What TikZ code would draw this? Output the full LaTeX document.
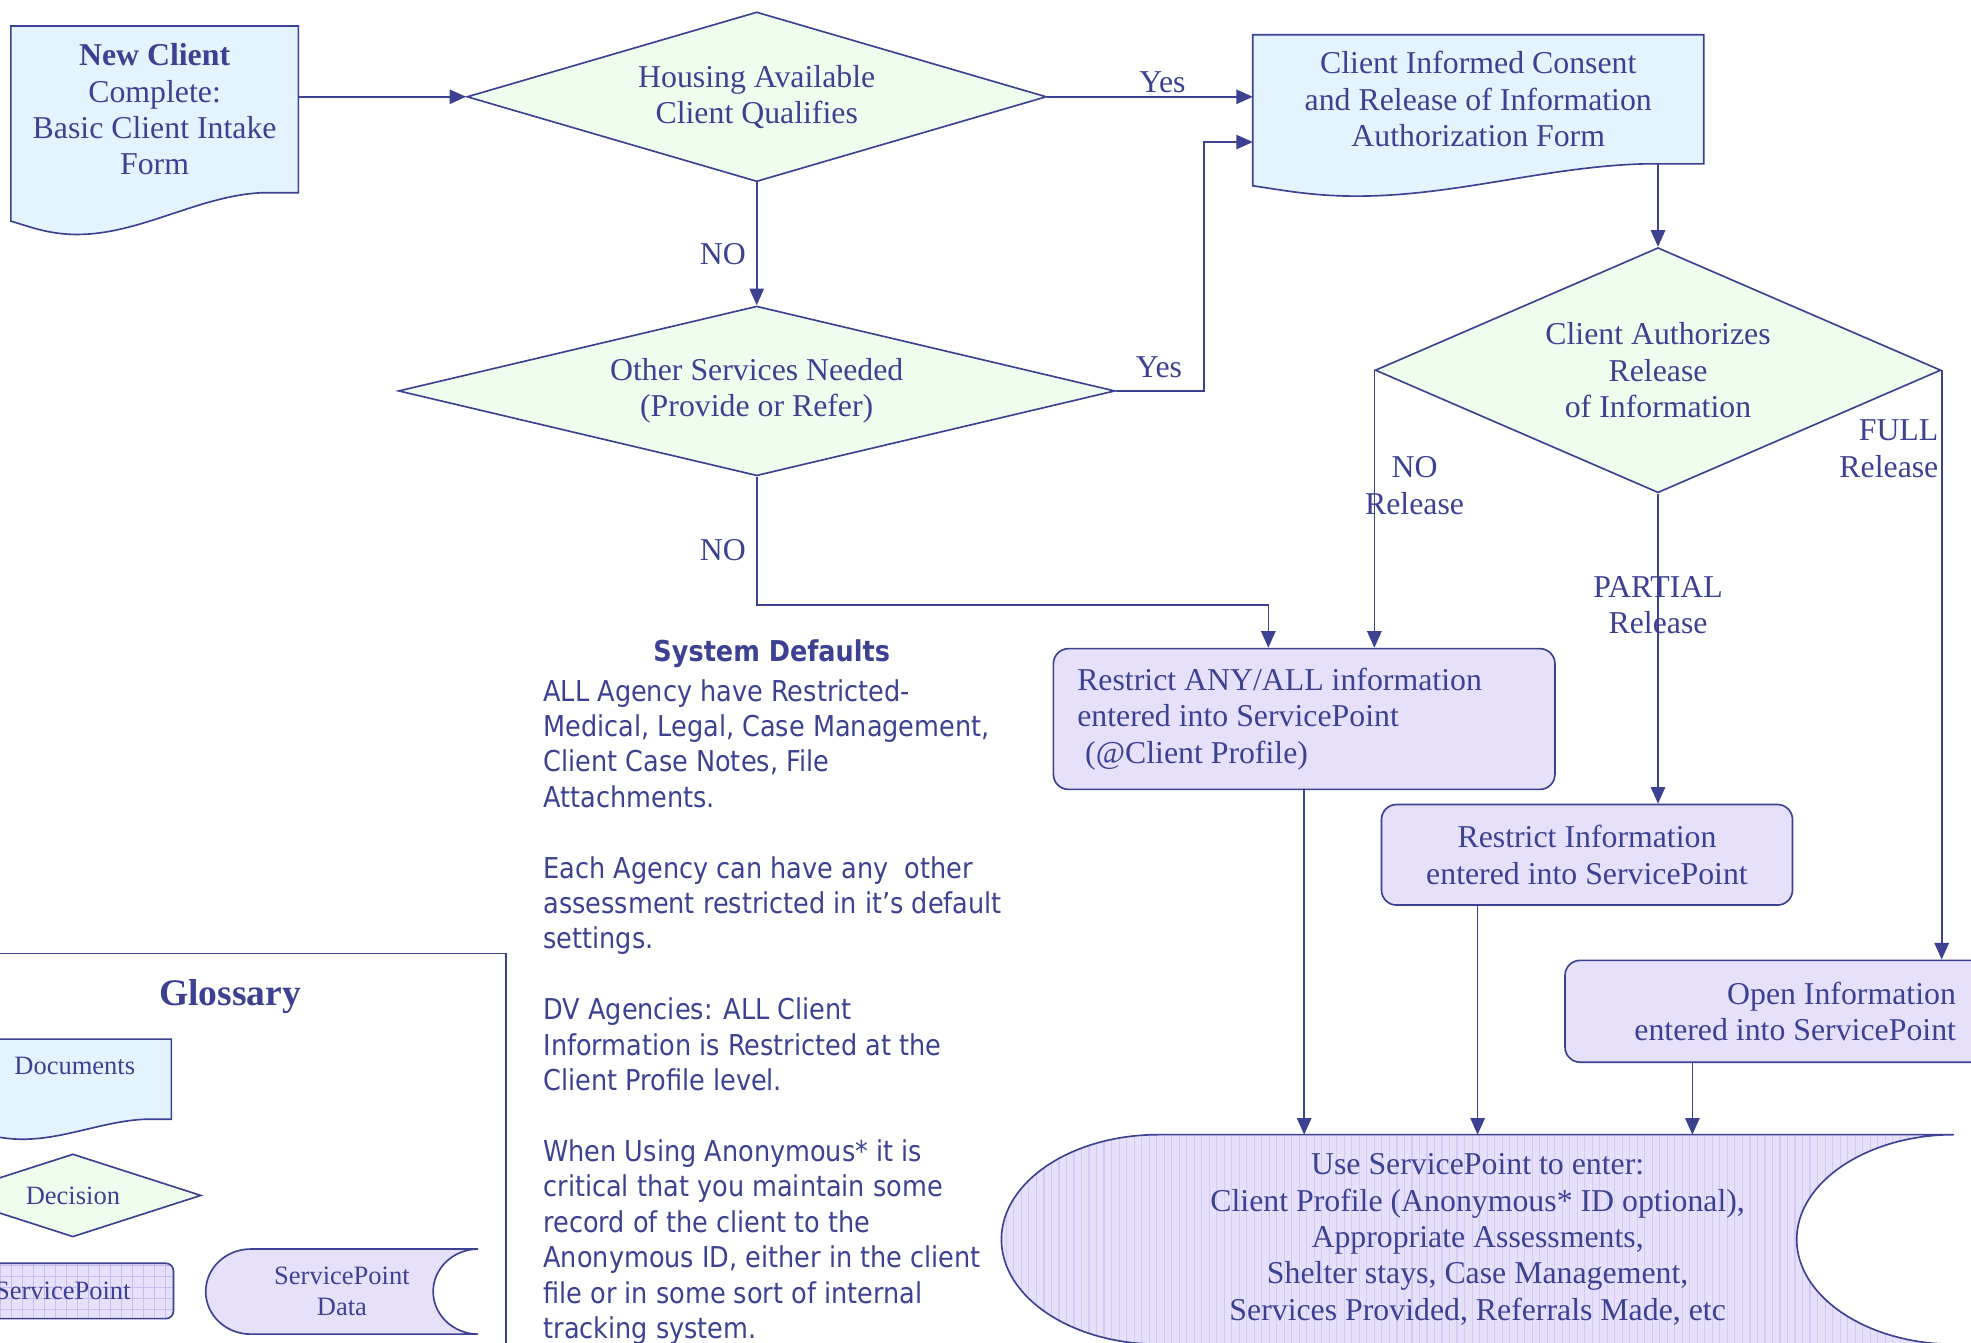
\documentclass[tikz,border=0pt]{standalone}
\usepackage{fontspec}
\setmainfont{Liberation Serif}
\setsansfont[FakeStretch=0.89]{DejaVu Sans}
\usepackage{xcolor}
\usepackage{tikz}
\usetikzlibrary{shapes.geometric, arrows.meta, positioning, calc, backgrounds, patterns.meta}

\definecolor{navy}{RGB}{60,65,145}
\definecolor{docfill}{RGB}{228,244,254}
\definecolor{decfill}{RGB}{239,253,239}
\definecolor{procfill}{RGB}{230,224,251}
\definecolor{hatchline}{RGB}{212,202,246}
\definecolor{gridline}{RGB}{200,188,242}

\newcommand{\flowfont}{\fontsize{14.4pt}{16.5pt}\selectfont}
\newcommand{\glossfont}{\fontsize{12pt}{14.2pt}\selectfont}
\newcommand{\glosstitle}{\bfseries\fontsize{17pt}{20pt}\selectfont}
\newcommand{\notefont}{\sffamily\fontsize{13pt}{16.03pt}\selectfont}

\tikzset{
    shapeline/.style={
        draw=navy,
        line width=0.75pt
    },
    docbox/.style={
        rectangle,
        inner sep=0pt,
        align=center,
        font=\flowfont
    },
    docline/.style={
        shapeline,
        fill=docfill
    },
    decision/.style={
        diamond,
        shapeline,
        fill=decfill,
        inner sep=0pt,
        align=center,
        font=\flowfont
    },
    process/.style={
        rectangle,
        rounded corners=0.24cm,
        shapeline,
        fill=procfill,
        inner sep=0pt,
        align=center,
        font=\flowfont
    },
    storebox/.style={
        rectangle,
        inner sep=0pt,
        align=center,
        font=\flowfont
    },
    wire/.style={
        draw=navy,
        line width=0.75pt,
        -{Triangle[length=7.5pt, width=6.5pt]}
    },
    edgelabel/.style={
        inner sep=0pt,
        align=center,
        font=\flowfont
    },
    note/.style={
        inner sep=0pt,
        align=flush left,
        font=\notefont
    },
    glosstext/.style={
        inner sep=0pt,
        align=center,
        font=\glossfont
    }
}

% document outline: box with a wavy bottom, drawn behind the node
\newcommand{\docoutline}[1]{%
    \begin{scope}[on background layer, x={($(#1.south east)-(#1.south west)$)}, y={($(#1.north west)-(#1.south west)$)}, shift={(#1.south west)}]
        \draw[docline] (0,1) -- (1,1) -- (1,0) -- (0.87,0) .. controls (0.65,-0.02) and (0.45,-0.25) .. (0.23,-0.25) .. controls (0.13,-0.25) and (0.06,-0.2) .. (0,-0.17) -- cycle;
    \end{scope}}

% stored data outline: round left side, hollow right side
\newcommand{\dataoutline}[2][fill=procfill]{%
    \begin{scope}[on background layer, x={($(#2.south east)-(#2.south west)$)}, y={($(#2.north west)-(#2.south west)$)}, shift={(#2.south west)}]
        \draw[shapeline, #1] (0.165,1) -- (1,1) .. controls (0.91,1) and (0.835,0.776) .. (0.835,0.5) .. controls (0.835,0.224) and (0.91,0) .. (1,0) -- (0.165,0) .. controls (0.074,0) and (0,0.224) .. (0,0.5) .. controls (0,0.776) and (0.074,1) .. (0.165,1) -- cycle;
    \end{scope}}

\begin{document}
\begin{tikzpicture}[color=navy, node distance=0.5cm and 0.5cm]

\useasboundingbox (0,0) rectangle (31.36,-21.36);

% Intake form and first decision
\node[docbox, minimum width=4.56cm, minimum height=2.64cm] (newclient) at (2.46,-1.74) {\textbf{New Client}\\Complete:\\Basic Client Intake\\Form};
\docoutline{newclient}
\node[decision, aspect=3.41, minimum width=9.22cm, minimum height=2.7cm] (housing) at (12.04,-1.54) {Housing Available\\Client Qualifies};
\node[docbox, minimum width=7.16cm, minimum height=2.04cm] (consent) at (23.52,-1.58) {Client Informed Consent\\and Release of Information\\Authorization Form};
\docoutline{consent}

\draw[wire] (newclient.east |- housing.west) -- (housing.west);
\draw[wire] (housing.east) -- node[edgelabel, above=0.05cm, pos=0.56] {Yes} (housing.east -| consent.west);

% Other services
\node[decision, aspect=4.22, minimum width=11.4cm, minimum height=2.7cm] (other) at (12.04,-6.22) {Other Services Needed\\(Provide or Refer)};
\draw[wire] (housing.south) -- node[edgelabel, left=0.16cm, pos=0.586] {NO} (other.north);
\draw[wire] (other.east) -- node[edgelabel, above=0.19cm, pos=0.49] {Yes} ++(1.4,0) |- ($(consent.west)+(0,-0.68)$);

% Release of information
\node[decision, aspect=2.31, minimum width=9.0cm, minimum height=3.9cm] (authorize) at (26.38,-5.89) {Client Authorizes\\Release\\of Information};
\draw[wire] (consent.south -| authorize.north) -- (authorize.north);

% Restricted / open entry
\node[process, text width=7.22cm, align=flush left, inner xsep=0.38cm, minimum height=2.24cm] (restrictall) at (20.75,-11.44) {Restrict ANY/ALL information\\entered into ServicePoint\\\hspace{0.25em}(@Client Profile)};
\node[process, minimum width=6.54cm, minimum height=1.6cm] (restrictpart) at (25.25,-13.6) {Restrict Information\\entered into ServicePoint};
\node[process, text width=5.54cm, align=flush right, inner xsep=0.68cm, minimum height=1.62cm] (openinfo) at (28.35,-16.09) {Open Information\\entered into ServicePoint};

\draw[wire] (other.south) -- node[edgelabel, left=0.16cm, pos=0.57] {NO} ++(0,-2.04) -| ($(restrictall.north)+(-0.57,0)$);
\draw[wire] (authorize.west) -- node[edgelabel, pos=0.416, xshift=0.64cm] {NO\\Release} (authorize.west |- restrictall.north);
\draw[wire] (authorize.south) -- node[edgelabel, pos=0.36] {PARTIAL\\Release} (authorize.south |- restrictpart.north);
\draw[wire] (authorize.east) -- node[edgelabel, align=flush right, anchor=east, pos=0.133, xshift=-0.04cm] {FULL\\Release} (authorize.east |- openinfo.north);

% Data entry
\node[storebox, minimum width=15.14cm, minimum height=3.32cm] (dataentry) at (23.51,-19.72) {Use ServicePoint to enter:\\Client Profile (Anonymous* ID optional),\\Appropriate Assessments,\\Shelter stays, Case Management,\\Services Provided, Referrals Made, etc};
\dataoutline[preaction={fill=procfill}, pattern={Lines[angle=90, distance=3.4pt, line width=0.5pt]}, pattern color=hatchline]{dataentry}

\draw[wire] (restrictall.south) -- (restrictall.south |- dataentry.north);
\draw[wire] (restrictpart.south -| dataentry.north) -- (dataentry.north);
\coordinate (openout) at ($(openinfo.south west)+(2.04,0)$);
\draw[wire] (openout) -- (openout |- dataentry.north);

% System defaults note
\node[inner sep=0pt, font=\notefont\bfseries] (defaults) at (12.28,-10.4) {System Defaults};
\node[note, anchor=north west] (defaultsbody) at (8.64,-10.8) {ALL Agency have Restricted-\\Medical, Legal, Case Management,\\Client Case Notes, File\\Attachments.\\[16.03pt]Each Agency can have any~~other\\assessment restricted in it’s default\\settings.\\[16.03pt]DV Agencies: ALL Client\\Information is Restricted at the\\Client Profile level.\\[16.03pt]When Using Anonymous* it is\\critical that you maintain some\\record of the client to the\\Anonymous ID, either in the client\\file or in some sort of internal\\tracking system.};

% Glossary
\node[draw=navy, line width=0.75pt, minimum width=8.6cm, minimum height=7cm, anchor=north east, inner sep=0pt] (glossary) at (8.06,-15.16) {};
\node[inner sep=0pt, font=\glosstitle] (glossarytitle) at (3.66,-15.86) {Glossary};
\node[docbox, minimum width=3.06cm, minimum height=1.26cm] (gdoc) at (1.19,-17.17) {};
\docoutline{gdoc}
\node[glosstext, below=0.28cm of gdoc.north] (gdoclabel) {Documents};
\node[decision, aspect=3.09, font=\glossfont, minimum width=4.08cm, minimum height=1.32cm] (gdecision) at (1.16,-19.02) {Decision};
\node[process, font=\glossfont, rounded corners=0.12cm, minimum width=3.52cm, minimum height=0.88cm, preaction={fill=procfill}, pattern={Hatch[distance=5pt, line width=0.4pt]}, pattern color=gridline] (gsp) at (1.0,-20.54) {ServicePoint};
\node[storebox, font=\glossfont, minimum width=4.32cm, minimum height=1.34cm] (gdata) at (5.44,-20.55) {ServicePoint\\Data};
\dataoutline{gdata}

\end{tikzpicture}
\end{document}
